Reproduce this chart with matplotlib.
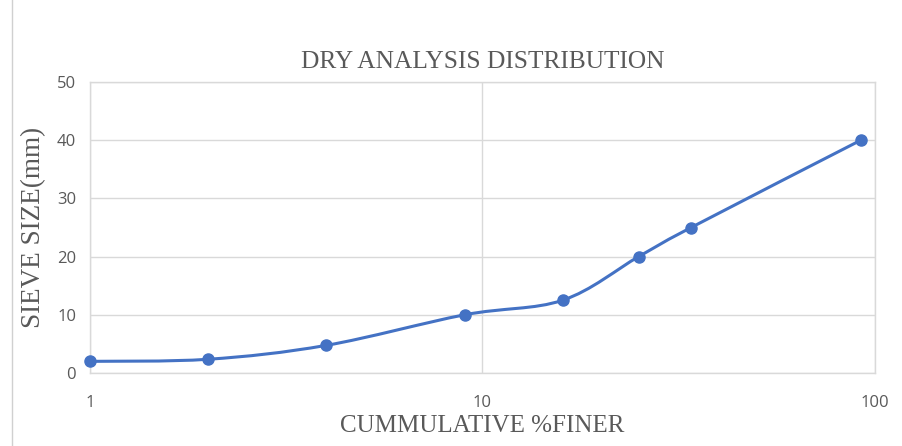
import numpy as np
import matplotlib.pyplot as plt
from matplotlib.path import Path
from matplotlib.patches import PathPatch
from matplotlib.lines import Line2D

# sieve results
pct_finer = [1, 2, 4, 9, 16, 25, 34, 92]
sieve_mm = [2, 2.36, 4.75, 10, 12.5, 20, 25, 40]
x_ticks = [1, 10, 100]
y_ticks = [0, 10, 20, 30, 40, 50]

blue = '#4472C4'
grid_c = '#D9D9D9'
text_c = '#595959'


def smooth_path(xs, ys):
    # Catmull-Rom style bezier in (log x, y) space, like a spreadsheet smoothed line
    lx = np.log10(xs)
    pts = np.column_stack([lx, ys])
    n = len(pts)
    verts = [pts[0]]
    codes = [Path.MOVETO]
    for i in range(n - 1):
        p0 = pts[max(i - 1, 0)]
        p1 = pts[i]
        p2 = pts[i + 1]
        p3 = pts[min(i + 2, n - 1)]
        c1 = p1 + (p2 - p0) / 6
        c2 = p2 - (p3 - p1) / 6
        verts += [c1, c2, p2]
        codes += [Path.CURVE4] * 3
    verts = np.array(verts)
    verts[:, 0] = 10 ** verts[:, 0]
    return Path(verts, codes)


fig = plt.figure(figsize=(9.02, 4.46), dpi=100)
ax = fig.add_axes([0.0998, 0.1637, 0.8702, 0.6523])

ax.set_xscale('log')
ax.set_xlim(1, 100)
ax.set_ylim(0, 50)
ax.set_xticks(x_ticks)
ax.set_xticklabels([str(t) for t in x_ticks])
ax.set_yticks(y_ticks)
ax.minorticks_off()
ax.tick_params(length=0, labelsize=12, labelcolor=text_c, pad=10)
for lab in ax.get_xticklabels() + ax.get_yticklabels():
    lab.set_family('Open Sans')
ax.tick_params(axis='x', pad=16)

ax.grid(True, color=grid_c, linewidth=1)
ax.set_axisbelow(True)
for s in ax.spines.values():
    s.set_color(grid_c)
    s.set_linewidth(1)

ax.add_patch(PathPatch(smooth_path(pct_finer, sieve_mm), facecolor='none',
                       edgecolor=blue, linewidth=2.2, capstyle='round', zorder=3))
ax.plot(pct_finer, sieve_mm, linestyle='none', marker='o', markersize=8,
        color=blue, zorder=4, clip_on=False)

ax.set_title('DRY ANALYSIS DISTRIBUTION', family='Liberation Serif', fontsize=18.3,
             color=text_c, pad=10)
ax.set_xlabel('CUMMULATIVE %FINER', family='Liberation Serif', fontsize=18,
              color=text_c, labelpad=3)
ax.set_ylabel('SIEVE SIZE(mm)', family='Liberation Serif', fontsize=19.5,
              color=text_c, labelpad=8)

# thin border line at the left of the image
fig.add_artist(Line2D([0.013, 0.013], [0, 1], transform=fig.transFigure,
                      color='#D0D0D0', linewidth=1))

fig.savefig('out.png', dpi=100, facecolor='white')
